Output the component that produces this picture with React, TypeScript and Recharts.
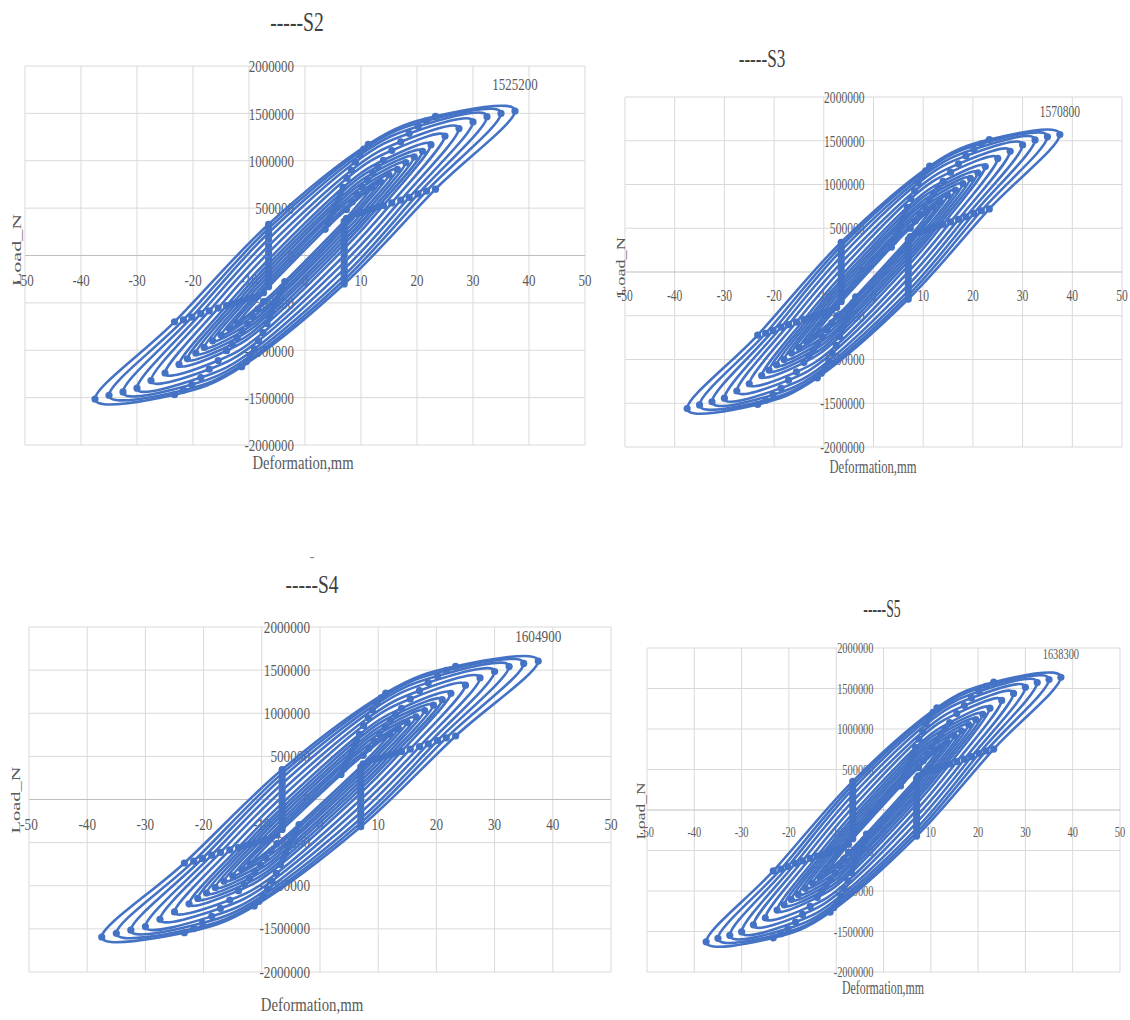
import React from 'react';
import { ScatterChart, Scatter, XAxis, YAxis, ReferenceLine } from 'recharts';

const BLUE = '#4472C4';
const GRID = '#d9d9d9';
const TEXT = '#595959';

const xTicks = [-50, -40, -30, -20, -10, 0, 10, 20, 30, 40, 50];
const yTicks = [-2000000, -1500000, -1000000, -500000, 0, 500000, 1000000, 1500000, 2000000];

type Pt = [number, number];

// one entry per cycle, [deformation mm, load N]
const s2Loops: Pt[][] = [
  [[-12, -710000], [-7.4, -393000], [-6.5, -330000], [3.6, 276000], [7.4, 486000], [12, 720000], [7.4, 393000], [7, 360000], [-3.6, -276000], [-7.4, -486000]],
  [[-13.5, -770000], [-8.4, -422000], [-6.5, -294000], [4.1, 339000], [8.4, 565000], [13.5, 780000], [8.4, 422000], [7, 324000], [-4.1, -339000], [-8.4, -565000]],
  [[-15, -840000], [-9.3, -443000], [-6.5, -258000], [4.5, 402000], [9.3, 644000], [15, 850000], [9.3, 443000], [7, 288000], [-4.5, -402000], [-9.3, -644000]],
  [[-16.5, -900000], [-10.2, -455000], [-6.5, -216000], [5, 462000], [10.2, 725000], [16.5, 910000], [10.2, 455000], [7, 246000], [-5, -462000], [-10.2, -725000]],
  [[-18, -970000], [-11.2, -478000], [-6.5, -174000], [5.4, 525000], [11.2, 800000], [18, 980000], [11.2, 478000], [7, 204000], [-5.4, -525000], [-11.2, -800000]],
  [[-19.5, -1030000], [-12.1, -494000], [-6.5, -132000], [5.9, 588000], [12.1, 870000], [19.5, 1040000], [12.1, 494000], [7, 162000], [-5.9, -588000], [-12.1, -870000]],
  [[-21, -1090000], [-13, -511000], [-6.5, -90000], [6.3, 652000], [13, 937000], [21, 1100000], [13, 511000], [7, 120000], [-6.3, -652000], [-13, -937000]],
  [[-22.5, -1150000], [-14, -529000], [-6.5, -42000], [6.8, 718000], [14, 1005000], [22.5, 1170000], [14, 529000], [7, 72000], [-6.8, -718000], [-14, -1005000]],
  [[-25, -1240000], [-15.5, -555000], [-6.5, 30000], [7.5, 815000], [15.5, 1108000], [25, 1260000], [15.5, 555000], [7, 0], [-7.5, -815000], [-15.5, -1108000]],
  [[-27.5, -1320000], [-17.1, -584000], [-6.5, 102000], [8.3, 900000], [17.1, 1200000], [27.5, 1340000], [17.1, 584000], [7, -72000], [-8.3, -900000], [-17.1, -1200000]],
  [[-30, -1400000], [-18.6, -613000], [-6.5, 174000], [9, 986000], [18.6, 1288000], [30, 1410000], [18.6, 613000], [7, -144000], [-9, -986000], [-18.6, -1288000]],
  [[-32.5, -1440000], [-20.2, -650000], [-6.5, 240000], [9.8, 1060000], [20.2, 1362000], [32.5, 1465000], [20.2, 650000], [7, -210000], [-9.8, -1060000], [-20.2, -1362000]],
  [[-35, -1475000], [-21.7, -680000], [-6.5, 288000], [10.5, 1122000], [21.7, 1422000], [35, 1500000], [21.7, 680000], [7, -258000], [-10.5, -1122000], [-21.7, -1422000]],
  [[-37.5, -1515000], [-23.3, -700000], [-6.5, 330000], [11.3, 1174000], [23.3, 1469000], [37.5, 1525200], [23.3, 700000], [7, -300000], [-11.3, -1174000], [-23.3, -1469000]],
];

const s3Loops: Pt[][] = [
  [[-12, -731000], [-7.4, -405000], [-6.5, -340000], [3.6, 284000], [7.4, 501000], [12, 742000], [7.4, 405000], [7, 371000], [-3.6, -284000], [-7.4, -501000]],
  [[-13.5, -793000], [-8.4, -435000], [-6.5, -303000], [4.1, 349000], [8.4, 582000], [13.5, 803000], [8.4, 435000], [7, 334000], [-4.1, -349000], [-8.4, -582000]],
  [[-15, -865000], [-9.3, -456000], [-6.5, -266000], [4.5, 414000], [9.3, 663000], [15, 876000], [9.3, 456000], [7, 297000], [-4.5, -414000], [-9.3, -663000]],
  [[-16.5, -927000], [-10.2, -469000], [-6.5, -222000], [5, 476000], [10.2, 747000], [16.5, 937000], [10.2, 469000], [7, 253000], [-5, -476000], [-10.2, -747000]],
  [[-18, -999000], [-11.2, -492000], [-6.5, -179000], [5.4, 541000], [11.2, 824000], [18, 1009000], [11.2, 492000], [7, 210000], [-5.4, -541000], [-11.2, -824000]],
  [[-19.5, -1061000], [-12.1, -509000], [-6.5, -136000], [5.9, 606000], [12.1, 896000], [19.5, 1071000], [12.1, 509000], [7, 167000], [-5.9, -606000], [-12.1, -896000]],
  [[-21, -1123000], [-13, -526000], [-6.5, -93000], [6.3, 672000], [13, 965000], [21, 1133000], [13, 526000], [7, 124000], [-6.3, -672000], [-13, -965000]],
  [[-22.5, -1185000], [-14, -545000], [-6.5, -43000], [6.8, 740000], [14, 1035000], [22.5, 1205000], [14, 545000], [7, 74000], [-6.8, -740000], [-14, -1035000]],
  [[-25, -1277000], [-15.5, -572000], [-6.5, 31000], [7.5, 839000], [15.5, 1141000], [25, 1298000], [15.5, 572000], [7, 0], [-7.5, -839000], [-15.5, -1141000]],
  [[-27.5, -1360000], [-17.1, -602000], [-6.5, 105000], [8.3, 927000], [17.1, 1236000], [27.5, 1380000], [17.1, 602000], [7, -74000], [-8.3, -927000], [-17.1, -1236000]],
  [[-30, -1442000], [-18.6, -631000], [-6.5, 179000], [9, 1016000], [18.6, 1327000], [30, 1452000], [18.6, 631000], [7, -148000], [-9, -1016000], [-18.6, -1327000]],
  [[-32.5, -1483000], [-20.2, -670000], [-6.5, 247000], [9.8, 1092000], [20.2, 1403000], [32.5, 1509000], [20.2, 670000], [7, -216000], [-9.8, -1092000], [-20.2, -1403000]],
  [[-35, -1519000], [-21.7, -700000], [-6.5, 297000], [10.5, 1156000], [21.7, 1465000], [35, 1545000], [21.7, 700000], [7, -266000], [-10.5, -1156000], [-21.7, -1465000]],
  [[-37.5, -1560000], [-23.3, -721000], [-6.5, 340000], [11.3, 1209000], [23.3, 1513000], [37.5, 1570800], [23.3, 721000], [7, -309000], [-11.3, -1209000], [-23.3, -1513000]],
];

const s4Loops: Pt[][] = [
  [[-12, -747000], [-7.4, -413000], [-6.5, -347000], [3.6, 290000], [7.4, 511000], [12, 757000], [7.4, 413000], [7, 379000], [-3.6, -290000], [-7.4, -511000]],
  [[-13.5, -810000], [-8.4, -444000], [-6.5, -309000], [4.1, 357000], [8.4, 594000], [13.5, 821000], [8.4, 444000], [7, 341000], [-4.1, -357000], [-8.4, -594000]],
  [[-15, -884000], [-9.3, -466000], [-6.5, -271000], [4.5, 423000], [9.3, 677000], [15, 894000], [9.3, 466000], [7, 303000], [-4.5, -423000], [-9.3, -677000]],
  [[-16.5, -947000], [-10.2, -479000], [-6.5, -227000], [5, 486000], [10.2, 763000], [16.5, 957000], [10.2, 479000], [7, 259000], [-5, -486000], [-10.2, -763000]],
  [[-18, -1020000], [-11.2, -503000], [-6.5, -183000], [5.4, 552000], [11.2, 842000], [18, 1031000], [11.2, 503000], [7, 215000], [-5.4, -552000], [-11.2, -842000]],
  [[-19.5, -1084000], [-12.1, -520000], [-6.5, -139000], [5.9, 619000], [12.1, 915000], [19.5, 1094000], [12.1, 520000], [7, 170000], [-5.9, -619000], [-12.1, -915000]],
  [[-21, -1147000], [-13, -538000], [-6.5, -95000], [6.3, 686000], [13, 986000], [21, 1157000], [13, 538000], [7, 126000], [-6.3, -686000], [-13, -986000]],
  [[-22.5, -1210000], [-14, -557000], [-6.5, -44000], [6.8, 755000], [14, 1057000], [22.5, 1231000], [14, 557000], [7, 76000], [-6.8, -755000], [-14, -1057000]],
  [[-25, -1304000], [-15.5, -584000], [-6.5, 32000], [7.5, 857000], [15.5, 1166000], [25, 1326000], [15.5, 584000], [7, 0], [-7.5, -857000], [-15.5, -1166000]],
  [[-27.5, -1389000], [-17.1, -614000], [-6.5, 107000], [8.3, 947000], [17.1, 1262000], [27.5, 1410000], [17.1, 614000], [7, -76000], [-8.3, -947000], [-17.1, -1262000]],
  [[-30, -1473000], [-18.6, -645000], [-6.5, 183000], [9, 1037000], [18.6, 1355000], [30, 1483000], [18.6, 645000], [7, -151000], [-9, -1037000], [-18.6, -1355000]],
  [[-32.5, -1515000], [-20.2, -684000], [-6.5, 252000], [9.8, 1115000], [20.2, 1433000], [32.5, 1541000], [20.2, 684000], [7, -221000], [-9.8, -1115000], [-20.2, -1433000]],
  [[-35, -1552000], [-21.7, -715000], [-6.5, 303000], [10.5, 1180000], [21.7, 1496000], [35, 1578000], [21.7, 715000], [7, -271000], [-10.5, -1180000], [-21.7, -1496000]],
  [[-37.5, -1594000], [-23.3, -736000], [-6.5, 347000], [11.3, 1235000], [23.3, 1545000], [37.5, 1604900], [23.3, 736000], [7, -316000], [-11.3, -1235000], [-23.3, -1545000]],
];

const s5Loops: Pt[][] = [
  [[-12, -763000], [-7.4, -422000], [-6.5, -354000], [3.6, 296000], [7.4, 522000], [12, 773000], [7.4, 422000], [7, 387000], [-3.6, -296000], [-7.4, -522000]],
  [[-13.5, -827000], [-8.4, -453000], [-6.5, -316000], [4.1, 364000], [8.4, 607000], [13.5, 838000], [8.4, 453000], [7, 348000], [-4.1, -364000], [-8.4, -607000]],
  [[-15, -902000], [-9.3, -476000], [-6.5, -277000], [4.5, 432000], [9.3, 692000], [15, 913000], [9.3, 476000], [7, 309000], [-4.5, -432000], [-9.3, -692000]],
  [[-16.5, -967000], [-10.2, -489000], [-6.5, -232000], [5, 496000], [10.2, 779000], [16.5, 977000], [10.2, 489000], [7, 264000], [-5, -496000], [-10.2, -779000]],
  [[-18, -1042000], [-11.2, -513000], [-6.5, -187000], [5.4, 564000], [11.2, 859000], [18, 1053000], [11.2, 513000], [7, 219000], [-5.4, -564000], [-11.2, -859000]],
  [[-19.5, -1106000], [-12.1, -531000], [-6.5, -142000], [5.9, 632000], [12.1, 934000], [19.5, 1117000], [12.1, 531000], [7, 174000], [-5.9, -632000], [-12.1, -934000]],
  [[-21, -1171000], [-13, -549000], [-6.5, -97000], [6.3, 700000], [13, 1006000], [21, 1181000], [13, 549000], [7, 129000], [-6.3, -700000], [-13, -1006000]],
  [[-22.5, -1235000], [-14, -568000], [-6.5, -45000], [6.8, 771000], [14, 1079000], [22.5, 1257000], [14, 568000], [7, 77000], [-6.8, -771000], [-14, -1079000]],
  [[-25, -1332000], [-15.5, -596000], [-6.5, 32000], [7.5, 875000], [15.5, 1190000], [25, 1353000], [15.5, 596000], [7, 0], [-7.5, -875000], [-15.5, -1190000]],
  [[-27.5, -1418000], [-17.1, -627000], [-6.5, 110000], [8.3, 967000], [17.1, 1289000], [27.5, 1439000], [17.1, 627000], [7, -77000], [-8.3, -967000], [-17.1, -1289000]],
  [[-30, -1504000], [-18.6, -658000], [-6.5, 187000], [9, 1059000], [18.6, 1383000], [30, 1514000], [18.6, 658000], [7, -155000], [-9, -1059000], [-18.6, -1383000]],
  [[-32.5, -1547000], [-20.2, -698000], [-6.5, 258000], [9.8, 1138000], [20.2, 1463000], [32.5, 1573000], [20.2, 698000], [7, -226000], [-9.8, -1138000], [-20.2, -1463000]],
  [[-35, -1584000], [-21.7, -730000], [-6.5, 309000], [10.5, 1205000], [21.7, 1527000], [35, 1611000], [21.7, 730000], [7, -277000], [-10.5, -1205000], [-21.7, -1527000]],
  [[-37.5, -1627000], [-23.3, -752000], [-6.5, 354000], [11.3, 1261000], [23.3, 1578000], [37.5, 1638300], [23.3, 752000], [7, -322000], [-11.3, -1261000], [-23.3, -1578000]],
];

// peak point that carries the value label
const peakPoints: Pt[] = [[37.5, 1525200], [37.5, 1570800], [37.5, 1604900], [37.5, 1638300]];
const titles = ['-----S2', '-----S3', '-----S4', '-----S5'];

// layout of the four plots on the page
const panels = [
  { loops: s2Loops, box: { left: 0, top: 0, width: 600, height: 480 }, margin: { top: 66, right: 15, bottom: 35, left: 25 },
    tick: { size: 17.5, sx: 0.74, dy: 24, dx: 11 }, peakDy: 27,
    title: { x: 297, y: 22, size: 27, sx: 0.73 }, xTitle: { x: 303, y: 463, size: 19, sx: 0.77 }, yTitle: { x: 17, y: 250, size: 13, sx: 1.7 } },
  { loops: s3Loops, box: { left: 600, top: 40, width: 530, height: 440 }, margin: { top: 57, right: 8, bottom: 33, left: 25 },
    tick: { size: 16.5, sx: 0.7, dy: 23, dx: 9 }, peakDy: 23,
    title: { x: 762, y: 58, size: 26, sx: 0.66 }, xTitle: { x: 873, y: 467, size: 18, sx: 0.7 }, yTitle: { x: 620, y: 267, size: 13, sx: 1.4 } },
  { loops: s4Loops, box: { left: 0, top: 560, width: 620, height: 460 }, margin: { top: 67, right: 9, bottom: 48, left: 29 },
    tick: { size: 16.5, sx: 0.8, dy: 25, dx: 10 }, peakDy: 25,
    title: { x: 312, y: 585, size: 26, sx: 0.75 }, xTitle: { x: 312, y: 1005, size: 19, sx: 0.78 }, yTitle: { x: 16, y: 800, size: 13, sx: 1.57 } },
  { loops: s5Loops, box: { left: 620, top: 560, width: 510, height: 460 }, margin: { top: 88, right: 10, bottom: 48, left: 27 },
    tick: { size: 15.5, sx: 0.67, dy: 22, dx: 10 }, peakDy: 24,
    title: { x: 882, y: 608, size: 25, sx: 0.55 }, xTitle: { x: 883, y: 988, size: 18, sx: 0.66 }, yTitle: { x: 640, y: 811, size: 13, sx: 1.34 } },
];

const FONT = "'Liberation Serif', 'Times New Roman', serif";

function SText({ x, y, text, size, sx = 1, rot = 0, anchor = 'middle', color = TEXT }: any) {
  return (
    <text
      transform={`translate(${x},${y}) rotate(${rot}) scale(${sx},1)`}
      textAnchor={anchor}
      dominantBaseline="central"
      fontFamily={FONT}
      fontSize={size}
      fill={color}
    >
      {text}
    </text>
  );
}

// closed catmull-rom through the points, close to Excel's smoothed lines
function loopPath(pts: { x: number; y: number }[]) {
  const n = pts.length;
  if (!n) return '';
  let d = `M${pts[0].x},${pts[0].y}`;
  for (let i = 0; i < n; i++) {
    const p0 = pts[(i - 1 + n) % n];
    const p1 = pts[i];
    const p2 = pts[(i + 1) % n];
    const p3 = pts[(i + 2) % n];
    const c1x = p1.x + (p2.x - p0.x) / 6;
    const c1y = p1.y + (p2.y - p0.y) / 6;
    const c2x = p2.x - (p3.x - p1.x) / 6;
    const c2y = p2.y - (p3.y - p1.y) / 6;
    d += ` C${c1x},${c1y} ${c2x},${c2y} ${p2.x},${p2.y}`;
  }
  return d + ' Z';
}

function Panel({ idx }: { idx: number }) {
  const p = panels[idx];
  const xLabels = xTicks.map(t => ({ x: t, y: 0 }));
  const yLabels = yTicks.map(t => ({ x: 0, y: t }));
  const peak = [{ x: peakPoints[idx][0], y: peakPoints[idx][1] }];

  return (
    <div style={{ position: 'absolute', left: p.box.left, top: p.box.top }}>
      <ScatterChart width={p.box.width} height={p.box.height} margin={p.margin}>
        <XAxis type="number" dataKey="x" domain={[-50, 50]} ticks={xTicks} hide />
        <YAxis type="number" dataKey="y" domain={[-2000000, 2000000]} ticks={yTicks} hide />
        {xTicks.map(t => (
          <ReferenceLine key={'gx' + t} x={t} stroke={GRID} strokeWidth={1} />
        ))}
        {yTicks.map(t => (
          <ReferenceLine key={'gy' + t} y={t} stroke={t === 0 ? '#bfbfbf' : GRID} strokeWidth={1} />
        ))}

        {/* tick labels sit on the axes that cross at the origin */}
        <Scatter
          data={xLabels}
          isAnimationActive={false}
          shape={(s: any) => (
            <SText x={s.cx} y={s.cy + p.tick.dy} text={String(s.payload.x)} size={p.tick.size} sx={p.tick.sx} />
          )}
        />
        <Scatter
          data={yLabels}
          isAnimationActive={false}
          shape={(s: any) => (
            <SText x={s.cx - p.tick.dx} y={s.cy} text={String(s.payload.y)} size={p.tick.size} sx={p.tick.sx} anchor="end" />
          )}
        />

        {p.loops.map((loop, i) => (
          <Scatter
            key={i}
            data={loop.map(([x, y]) => ({ x, y }))}
            isAnimationActive={false}
            fill={BLUE}
            line={(lp: any) => (
              <path d={loopPath(lp.points || [])} fill="none" stroke={BLUE} strokeWidth={2.6} strokeLinejoin="round" />
            )}
            lineType="joint"
            shape={(s: any) => <circle cx={s.cx} cy={s.cy} r={3.6} fill={BLUE} />}
          />
        ))}

        <Scatter
          data={peak}
          isAnimationActive={false}
          shape={(s: any) => (
            <SText x={s.cx} y={s.cy - p.peakDy} text={String(s.payload.y)} size={p.tick.size} sx={p.tick.sx} />
          )}
        />
      </ScatterChart>
    </div>
  );
}

export default function App() {
  return (
    <div style={{ position: 'absolute', left: 0, top: 0, width: 1130, height: 1020, background: '#ffffff', overflow: 'hidden' }}>
      {panels.map((_, i) => (
        <Panel key={i} idx={i} />
      ))}
      <svg width={1130} height={1020} style={{ position: 'absolute', left: 0, top: 0, pointerEvents: 'none' }}>
        {panels.map((p, i) => (
          <g key={i}>
            <SText x={p.title.x} y={p.title.y} text={titles[i]} size={p.title.size} sx={p.title.sx} color="#404040" />
            <SText x={p.xTitle.x} y={p.xTitle.y} text="Deformation,mm" size={p.xTitle.size} sx={p.xTitle.sx} />
            <SText x={p.yTitle.x} y={p.yTitle.y} text="Load_N" size={p.yTitle.size} sx={p.yTitle.sx} rot={-90} />
          </g>
        ))}
        <SText x={312} y={556} text="-" size={14} color="#808080" />
      </svg>
    </div>
  );
}
